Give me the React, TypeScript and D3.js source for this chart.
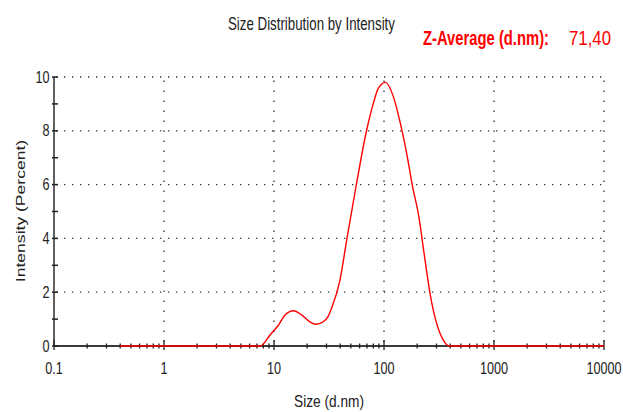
import * as d3 from "d3"
import React, { useEffect, useRef } from "react"

// Size distribution by intensity.
const sizes = [0.4, 7.5, 9.2, 11, 12.6, 15, 17.9, 21.2, 24, 28, 31, 33.4, 39.8, 45.8, 55.6, 69.6, 80, 88.8, 103.5, 121.6, 139.7, 160.7, 182, 205, 236, 262, 301, 346, 393, 10000]
const intensity = [0, 0, 0.41, 0.78, 1.15, 1.31, 1.15, 0.9, 0.81, 0.9, 1.09, 1.41, 2.45, 3.94, 5.92, 8.03, 9.02, 9.58, 9.8, 9.27, 8.34, 7.16, 5.92, 4.93, 3.2, 1.96, 0.84, 0.22, 0, 0]

const xMajorTicks = [0.1, 1, 10, 100, 1000, 10000]
const xTickLabels = ["0.1", "1", "10", "100", "1000", "10000"]
const yTicks = [0, 1, 2, 3, 4, 5, 6, 7, 8, 9, 10]
const yTickLabels = ["0", "2", "4", "6", "8", "10"]
const yLabelValues = [0, 2, 4, 6, 8, 10]

const title = "Size Distribution by Intensity"
const zAvgLabel = "Z-Average (d.nm):"
const zAvgValue = "71,40"
const xTitle = "Size (d.nm)"
const yTitle = "Intensity (Percent)"

const App = () => {
    const refSvg = useRef<SVGSVGElement>(null)

    useEffect(() => {
        const svg = d3.select(refSvg.current)
        svg.selectAll("*").remove()

        const font = "'Liberation Sans', Arial, sans-serif"
        const ink = "#222222"
        const red = "#ff0000"

        // Log x, linear y.
        const scaleX = d3.scaleLog().domain([0.1, 10000]).range([54, 604])
        const scaleY = d3.scaleLinear().domain([0, 10]).range([346, 77])

        // Minor x ticks: 2..9 in every decade.
        const xMinor: number[] = []
        for (let dec = 0; dec < 5; dec++) {
            for (let m = 2; m <= 9; m++) xMinor.push(m * Math.pow(10, dec - 1))
        }

        // Dotted grid.
        svg.append("g").selectAll("line")
            .data(yLabelValues.filter(d => d > 0))
            .join("line")
            .attr("x1", scaleX(0.1) + 2).attr("x2", scaleX(10000))
            .attr("y1", d => scaleY(d)).attr("y2", d => scaleY(d))
            .attr("stroke", "#333").attr("stroke-width", 1.3)
            .attr("stroke-dasharray", "1.3 6.7")
        svg.append("g").selectAll("line")
            .data(xMajorTicks.filter(d => d > 0.1))
            .join("line")
            .attr("x1", d => scaleX(d)).attr("x2", d => scaleX(d))
            .attr("y1", scaleY(0) - 4).attr("y2", scaleY(10))
            .attr("stroke", "#333").attr("stroke-width", 1.3)
            .attr("stroke-dasharray", "1.5 8.5")

        // Axes lines.
        svg.append("line")
            .attr("x1", scaleX(0.1)).attr("x2", scaleX(0.1))
            .attr("y1", scaleY(10)).attr("y2", scaleY(0))
            .attr("stroke", "#3a3a3a").attr("stroke-width", 1.6)
        svg.append("line")
            .attr("x1", scaleX(0.1)).attr("x2", scaleX(10000))
            .attr("y1", scaleY(0)).attr("y2", scaleY(0))
            .attr("stroke", "#3a3a3a").attr("stroke-width", 2)

        // Y ticks cross the axis.
        svg.append("g").selectAll("line")
            .data(yTicks)
            .join("line")
            .attr("x1", scaleX(0.1) - 2).attr("x2", scaleX(0.1) + 4)
            .attr("y1", d => scaleY(d)).attr("y2", d => scaleY(d))
            .attr("stroke", "#222").attr("stroke-width", 1.5)

        // X ticks.
        svg.append("g").selectAll("line")
            .data(xMinor)
            .join("line")
            .attr("x1", d => scaleX(d)).attr("x2", d => scaleX(d))
            .attr("y1", scaleY(0) - 2.5).attr("y2", scaleY(0) + 2.5)
            .attr("stroke", "#222").attr("stroke-width", 1.3)
        svg.append("g").selectAll("line")
            .data(xMajorTicks)
            .join("line")
            .attr("x1", d => scaleX(d)).attr("x2", d => scaleX(d))
            .attr("y1", scaleY(0) - 6).attr("y2", scaleY(0) + 4)
            .attr("stroke", "#222").attr("stroke-width", 1.3)

        // Distribution curve.
        const line = d3.line<number>()
            .x((d, i) => scaleX(sizes[i]))
            .y(d => scaleY(d))
            .curve(d3.curveMonotoneX)
        svg.append("path")
            .attr("d", line(intensity))
            .attr("fill", "none")
            .attr("stroke", red)
            .attr("stroke-width", 1.4)

        // Tick labels (narrow, like the report).
        svg.append("g").selectAll("text")
            .data(xMajorTicks)
            .join("text")
            .attr("transform", d => `translate(${scaleX(d)}, 374) scale(0.79, 1)`)
            .attr("text-anchor", "middle")
            .attr("font-family", font).attr("font-size", 16)
            .attr("fill", ink)
            .text((d, i) => xTickLabels[i])
        svg.append("g").selectAll("text")
            .data(yLabelValues)
            .join("text")
            .attr("transform", d => `translate(49.5, ${scaleY(d) + 5.5}) scale(0.79, 1)`)
            .attr("text-anchor", "end")
            .attr("font-family", font).attr("font-size", 16)
            .attr("fill", ink)
            .text((d, i) => yTickLabels[i])

        // Titles, squeezed horizontally the way the report shows them.
        svg.append("text")
            .attr("transform", "translate(228, 30) scale(0.76, 1)")
            .attr("font-family", font).attr("font-size", 17.5)
            .attr("fill", ink)
            .text(title)
        svg.append("text")
            .attr("transform", "translate(423, 45) scale(0.74, 1)")
            .attr("font-family", font).attr("font-size", 20).attr("font-weight", "bold")
            .attr("fill", red)
            .text(zAvgLabel)
        svg.append("text")
            .attr("transform", "translate(569, 45) scale(0.84, 1)")
            .attr("font-family", font).attr("font-size", 20)
            .attr("fill", red)
            .text(zAvgValue)
        svg.append("text")
            .attr("transform", "translate(294, 406.5) scale(0.84, 1)")
            .attr("font-family", font).attr("font-size", 16.3)
            .attr("fill", ink)
            .text(xTitle)
        svg.append("text")
            .attr("transform", "translate(24.5, 211) rotate(-90) scale(1.3, 1)")
            .attr("text-anchor", "middle")
            .attr("font-family", font).attr("font-size", 13.5)
            .attr("fill", ink)
            .text(yTitle)
    }, [])

    return (
        <svg ref={refSvg} width={623} height={412}
            style={{ position: "absolute", left: 0, top: 0, background: "#ffffff" }}></svg>
    )
}

export default App
